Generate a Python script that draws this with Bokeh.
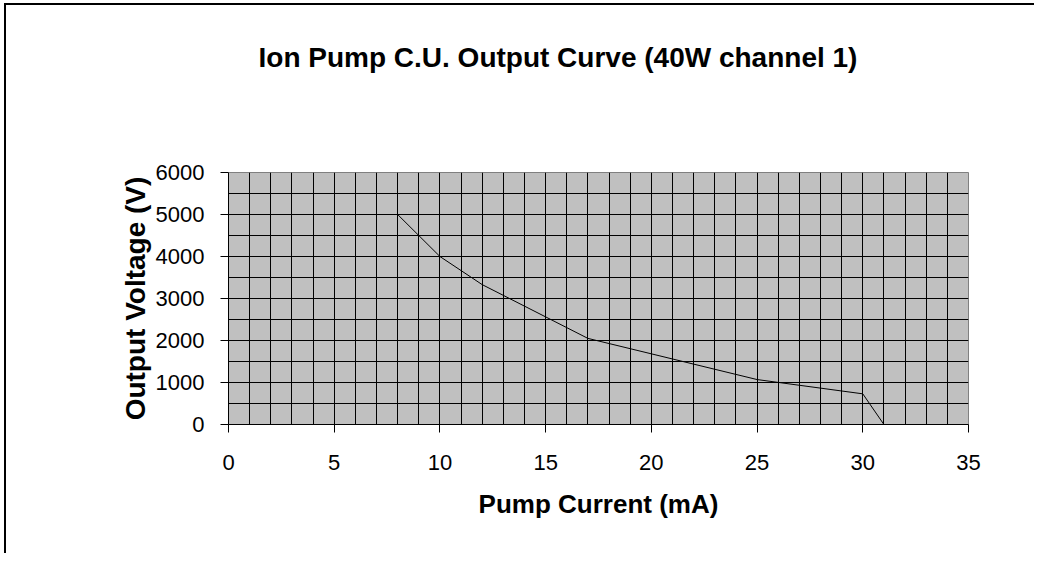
import math
from bokeh.plotting import figure
from bokeh.models import SingleIntervalTicker, FixedTicker, LinearAxis, Range1d
from bokeh.embed import file_html
from bokeh.resources import INLINE

# Data
current_ma = [0, 8, 10, 12, 17, 25, 30, 31]
voltage_v = [5000, 5000, 4000, 3330, 2050, 1070, 730, 0]

title_text = "Ion Pump C.U. Output Curve (40W channel 1)"
x_label = "Pump Current (mA)"
y_label = "Output Voltage (V)"

FONT = "Liberation Sans"
W, H = 1030, 550

p = figure(
    width=W, height=H,
    x_range=Range1d(0, 35), y_range=Range1d(0, 6000),
    output_backend="svg", toolbar_location=None,
    min_border_left=222, min_border_right=68,
    min_border_top=167, min_border_bottom=131,
    background_fill_color="#C0C0C0", border_fill_color="white",
    outline_line_color="#808080", outline_line_width=1,
    styles={"position": "absolute", "left": "6px", "top": "5px",
            "box-shadow": "-2px -2px 0px 0px black"},
)

p.line(current_ma, voltage_v, line_color="black", line_width=1)

xax = p.below[0]
yax = p.left[0]

# axes
xax.ticker = SingleIntervalTicker(interval=5, num_minor_ticks=0)
yax.ticker = SingleIntervalTicker(interval=1000, num_minor_ticks=0)
for ax in (xax, yax):
    ax.axis_line_color = "black"
    ax.major_tick_line_color = "black"
    ax.major_tick_out = 8
    ax.major_tick_in = 0
    ax.minor_tick_out = 0
    ax.minor_tick_in = 0
    ax.major_label_text_font = FONT
    ax.major_label_text_font_size = "22px"
    ax.major_label_text_color = "black"
    ax.axis_label_text_font = FONT
    ax.axis_label_text_font_style = "bold"
    ax.axis_label_text_color = "black"
xax.axis_label_text_font_size = "26px"
yax.axis_label_text_font_size = "28px"
xax.major_label_standoff = 22
yax.major_label_standoff = 16
xax.axis_label = x_label
yax.axis_label = y_label
xax.axis_label_standoff = 16
yax.axis_label_standoff = 2

# grids
p.xgrid[0].ticker = SingleIntervalTicker(interval=1)
p.ygrid[0].ticker = SingleIntervalTicker(interval=500)
for g in (p.xgrid[0], p.ygrid[0]):
    g.grid_line_color = "black"
    g.grid_line_width = 1
    g.grid_line_alpha = 1.0

# white (invisible) spacer axis above the frame, so the title sits higher
spacer = LinearAxis(ticker=FixedTicker(ticks=[0]), axis_line_color=None,
                    major_tick_line_color="white", minor_tick_line_color=None,
                    major_tick_out=95, major_tick_in=0,
                    minor_tick_out=0, minor_tick_in=0,
                    major_label_overrides={0: ""}, major_label_standoff=0)
p.add_layout(spacer, "above")

# title
p.title.text = title_text
p.title.text_font = FONT
p.title.text_font_style = "bold"
p.title.text_font_size = "28px"
p.title.text_color = "black"
p.title.align = "left"
p.title.offset = 30
p.title.standoff = 10

open("out.html", "w").write(file_html(p, INLINE))
